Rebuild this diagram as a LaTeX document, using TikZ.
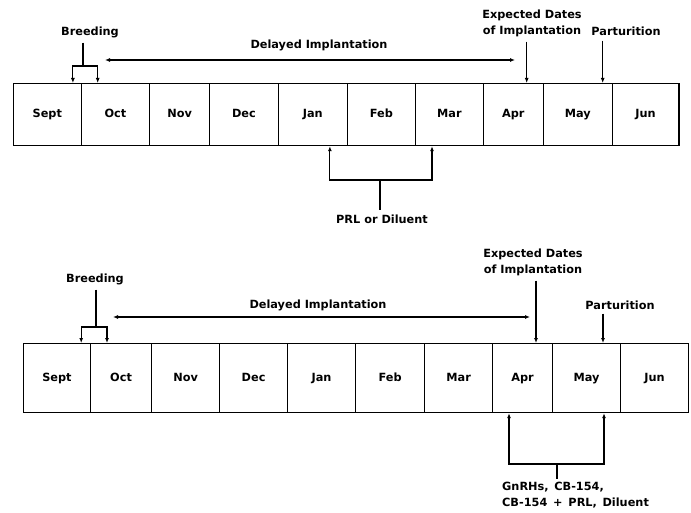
\documentclass[tikz,border=0pt]{standalone}
\usepackage{fontspec}
\setmainfont{DejaVu Sans}
\usetikzlibrary{arrows.meta, positioning, calc}

\begin{document}
\begin{tikzpicture}[
    x=1pt, y=-1pt,
    every node/.style={font=\bfseries\fontsize{11.3}{16}\selectfont},
    % --- Styles ---
    month/.style={draw, line width=1.2pt, minimum height=#1, inner sep=0pt,
        text height=8pt, text depth=2pt, anchor=north west},
    wire/.style={line width=1.1pt},
    tip/.style={wire, -{Latex[length=5pt,width=4pt]}},
    twotip/.style={wire, {Latex[length=5pt,width=4pt]}-{Latex[length=5pt,width=4pt]}},
    lbl/.style={inner sep=1pt, align=center}
]
    \useasboundingbox (0,0) rectangle (691,513);

    %% --- UPPER TIMELINE (PRL or Diluent) ---
    % Month boxes
    \foreach \m/\a/\b in {Sept/12.7/80.7, Oct/80.7/149, Nov/149/209, Dec/209/277.7,
        Jan/277.7/346.7, Feb/346.7/415, Mar/415/482.7, Apr/482.7/542.7,
        May/542.7/611.7, Jun/611.7/678.3}
        \node[month=62pt, minimum width={(\b-\a)*1pt}] (t-\m) at (\a,83) {\m};

    % Breeding
    \node[lbl] (breedA) at (90,32) {Breeding};
    \coordinate (breedAj) at (83,66);
    \draw[wire] ([yshift=-4pt]breedA.south -| breedAj) -- (breedAj);
    \draw[tip] (breedAj) -| ([xshift=-9pt]t-Sept.north east);
    \draw[tip] (breedAj) -| ([xshift=17pt]t-Oct.north west);

    % Delayed implantation
    \node[lbl] (delayA) at (319,45) {Delayed Implantation};
    \coordinate (delayAl) at (105,60);
    \coordinate (delayAr) at (515,60);
    \draw[twotip] (delayAl) -- (delayAr);

    % Implantation and parturition
    \node[lbl] (expA) at (532,23) {Expected Dates\\of Implantation};
    \coordinate (implA) at ([xshift=44pt]t-Apr.north west);
    \draw[tip] ([yshift=-4pt]expA.south -| implA) -- (implA);

    \node[lbl] (partA) at (626,31) {Parturition};
    \coordinate (partA-t) at ([xshift=60pt]t-May.north west);
    \draw[tip] ([yshift=-4pt]partA.south -| partA-t) -- (partA-t);

    % Treatment bracket
    \node[lbl] (prlA) at (382,219) {PRL or Diluent};
    \coordinate (prlAj) at (380,180);
    \draw[wire] (prlAj) -- ([yshift=3pt]prlAj |- prlA.north);
    \draw[tip] (prlAj) -| ([xshift=-18pt]t-Jan.south east);
    \draw[tip] (prlAj) -| ([xshift=17pt]t-Mar.south west);

    %% --- LOWER TIMELINE (GnRHs, CB-154) ---
    \foreach \m/\a/\b in {Sept/22.7/90, Oct/90/151, Nov/151/219, Dec/219/287,
        Jan/287/355, Feb/355/424, Mar/424/492, Apr/492/552,
        May/552/620, Jun/620/688}
        \node[month=69pt, minimum width={(\b-\a)*1pt}] (b-\m) at (\a,343) {\m};

    % Breeding
    \node[lbl] (breedB) at (95,279) {Breeding};
    \coordinate (breedBj) at (96,327);
    \draw[wire] ([yshift=-4pt]breedB.south -| breedBj) -- (breedBj);
    \draw[tip] (breedBj) -| ([xshift=-10pt]b-Sept.north east);
    \draw[tip] (breedBj) -| ([xshift=17pt]b-Oct.north west);

    % Delayed implantation
    \node[lbl] (delayB) at (318,305) {Delayed Implantation};
    \coordinate (delayBl) at (113,317);
    \coordinate (delayBr) at (530,317);
    \draw[twotip] (delayBl) -- (delayBr);

    % Implantation and parturition
    \node[lbl] (expB) at (533,262) {Expected Dates\\of Implantation};
    \coordinate (implB) at ([xshift=44pt]b-Apr.north west);
    \draw[tip] ([yshift=-4pt]expB.south -| implB) -- (implB);

    \node[lbl] (partB) at (620,305) {Parturition};
    \coordinate (partB-t) at ([xshift=51pt]b-May.north west);
    \draw[tip] ([yshift=-3pt]partB.south -| partB-t) -- (partB-t);

    % Treatment bracket
    \node[lbl, align=left, anchor=west] (gnrhB) at (501,495)
        {GnRHs,\enspace CB-154,\\CB-154 \,+\, PRL,\enspace Diluent};
    \coordinate (gnrhBj) at (557,464);
    \draw[wire] (gnrhBj) -- ([yshift=2pt]gnrhBj |- gnrhB.north);
    \draw[tip] (gnrhBj) -| ([xshift=17pt]b-Apr.south west);
    \draw[tip] (gnrhBj) -| ([xshift=52pt]b-May.south west);
\end{tikzpicture}
\end{document}
